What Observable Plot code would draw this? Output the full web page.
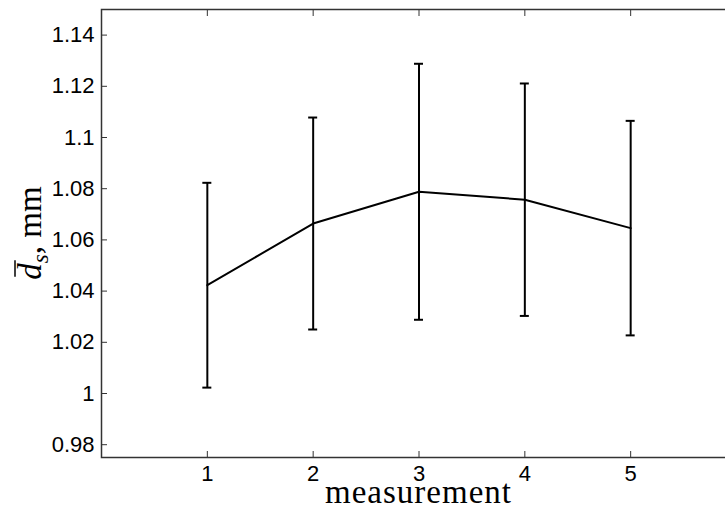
<!DOCTYPE html>
<html>
<head>
<meta charset="utf-8">
<script src="https://cdn.jsdelivr.net/npm/d3@7"></script>
<script src="https://cdn.jsdelivr.net/npm/@observablehq/plot@0.6"></script>
<style>
  html, body { margin: 0; padding: 0; background: #fff; overflow: hidden; width: 725px; height: 513px; }
  svg { display: block; max-width: none !important; width: 745px !important; height: 513px !important; }
</style>
</head>
<body>
<script>
// ---- data ----
const xValues = [1, 2, 3, 4, 5];
const means = [1.0423, 1.0664, 1.0788, 1.0757, 1.0646];
const errs = [0.0400, 0.0414, 0.0500, 0.0454, 0.0419];
const xTicks = [1, 2, 3, 4, 5];
const yTicks = [0.98, 1.00, 1.02, 1.04, 1.06, 1.08, 1.10, 1.12, 1.14];
const yTickLabels = ["0.98", "1", "1.02", "1.04", "1.06", "1.08", "1.1", "1.12", "1.14"];
const xLabel = "measurement";
const yLabelVar = "d";
const yLabelSub = "s";
const yLabelUnit = ", mm";

const data = xValues.map((x, i) => ({x, mean: means[i], lo: means[i] - errs[i], hi: means[i] + errs[i]}));

const chart = Plot.plot({
  width: 745,
  height: 513,
  marginLeft: 101,
  marginRight: 9,
  marginTop: 9,
  marginBottom: 56,
  x: {domain: [0, 6]},
  y: {domain: [0.975, 1.15]},
  style: {fontFamily: "'Liberation Sans', Arial, sans-serif", fontSize: "22px", color: "black", background: "white", maxWidth: "none"},
  marks: [
    Plot.frame({stroke: "#333", strokeWidth: 1.5}),
    Plot.axisY(yTicks, {tickSize: -6, tickPadding: 13, tickFormat: d => yTickLabels[yTicks.indexOf(d)], label: null, fontSize: 22, stroke: "#333", fill: "black"}),
    Plot.axisX(xTicks, {tickSize: -6, tickPadding: 14, tickFormat: d => String(d), label: null, fontSize: 22, stroke: "#333", fill: "black"}),
    Plot.axisX(xTicks, {anchor: "top", tickSize: -6, tickFormat: () => "", label: null, stroke: "#333"}),
    Plot.ruleX(data, {x: "x", y1: "lo", y2: "hi", stroke: "black", strokeWidth: 2}),
    Plot.ruleY(data, {y: "hi", x1: "x", x2: "x", insetLeft: -4.5, insetRight: -4.5, stroke: "black", strokeWidth: 2}),
    Plot.ruleY(data, {y: "lo", x1: "x", x2: "x", insetLeft: -4.5, insetRight: -4.5, stroke: "black", strokeWidth: 2}),
    Plot.line(data, {x: "x", y: "mean", stroke: "black", strokeWidth: 2})
  ]
});
document.body.append(chart);

const svg = d3.select(chart);
const serif = "'Liberation Serif', 'Times New Roman', serif";

// x label
svg.append("text")
  .attr("x", 418.5)
  .attr("y", 503)
  .attr("text-anchor", "middle")
  .attr("font-family", serif)
  .attr("font-size", 33)
  .attr("letter-spacing", "1px")
  .attr("fill", "black")
  .text(xLabel);

// y label
const g = svg.append("g").attr("transform", "translate(41,233) rotate(-90)");
const t = g.append("text")
  .attr("text-anchor", "middle")
  .attr("font-family", serif)
  .attr("font-size", 33)
  .attr("fill", "black");
t.append("tspan").attr("font-style", "italic").text(yLabelVar);
t.append("tspan").attr("font-style", "italic").attr("font-size", 23).attr("dy", 7).text(yLabelSub);
t.append("tspan").attr("dy", -7).text(yLabelUnit);
const node = t.node();
const s0 = node.getStartPositionOfChar(0);
const e0 = node.getEndPositionOfChar(0);
g.append("line")
  .attr("x1", s0.x + 3).attr("x2", e0.x + 3)
  .attr("y1", -26).attr("y2", -26)
  .attr("stroke", "black").attr("stroke-width", 1.5);
</script>
</body>
</html>
